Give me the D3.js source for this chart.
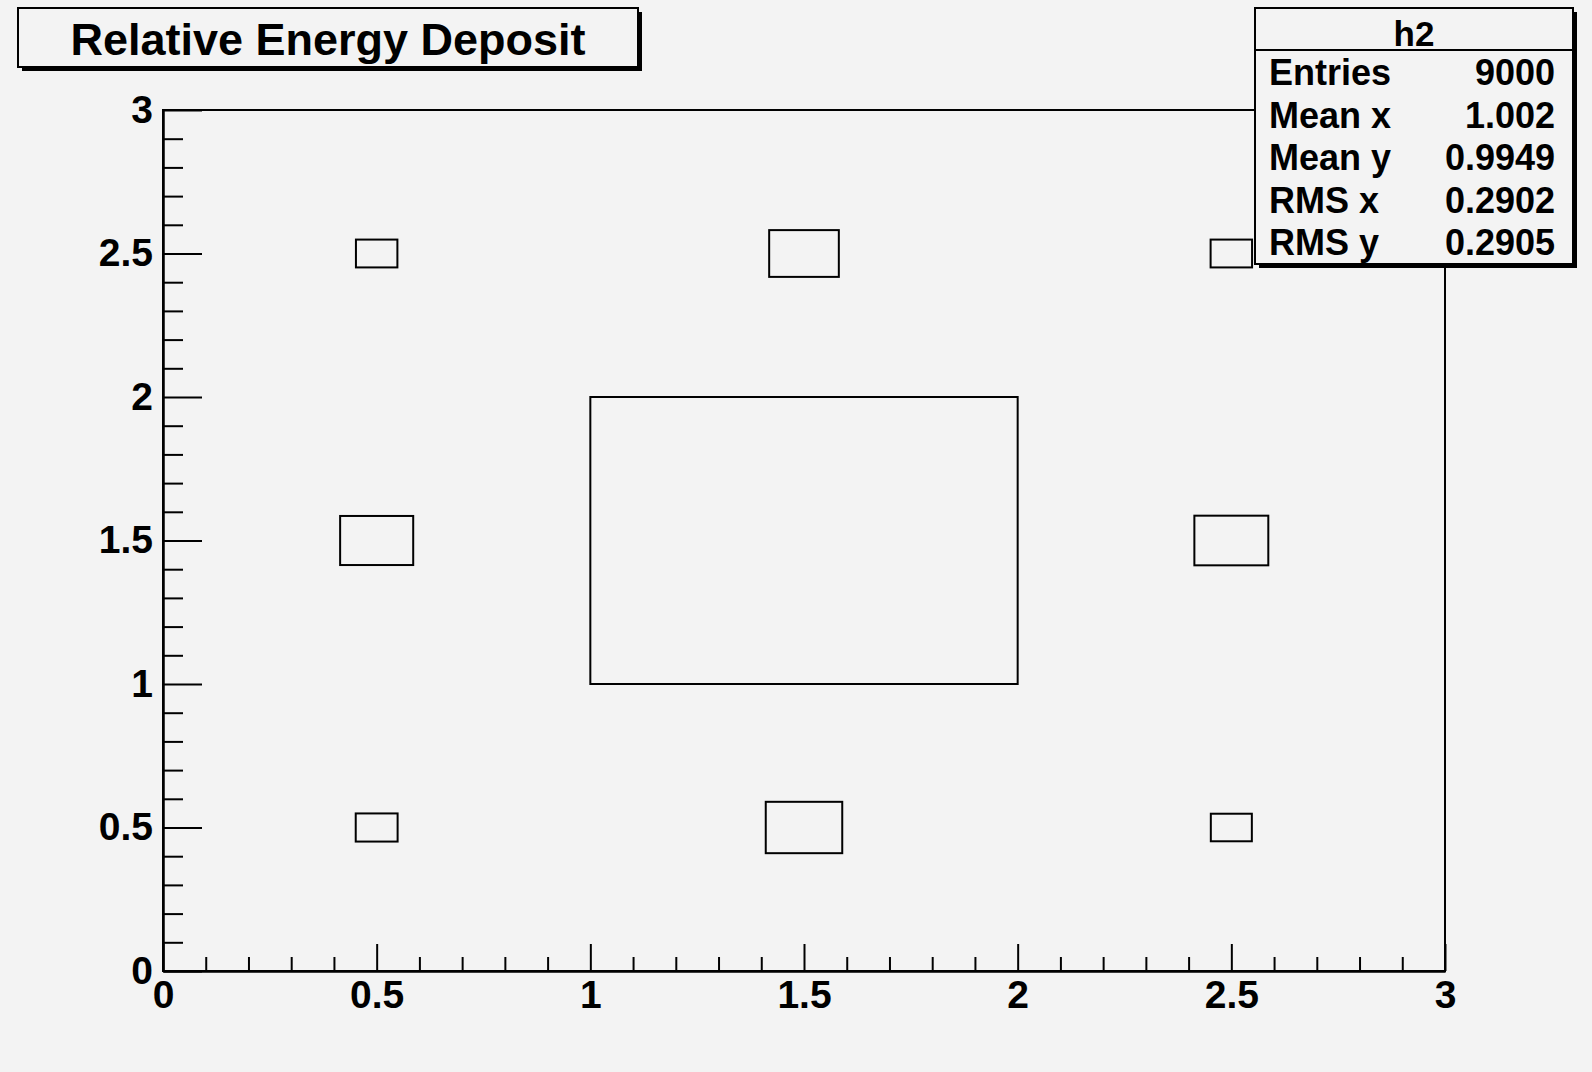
<!DOCTYPE html>
<html>
<head>
<meta charset="utf-8">
<script src="https://cdn.jsdelivr.net/npm/d3@7/dist/d3.min.js"></script>
<style>
body { margin: 0; background: #f3f3f3; }
text { font-family: "Liberation Sans", Arial, sans-serif; font-weight: bold; fill: #000; }
</style>
</head>
<body>
<svg width="1592" height="1072"></svg>
<script>
// 3x3 bins, box side proportional to bin content
var binX = [0.5, 1.5, 2.5, 0.5, 1.5, 2.5, 0.5, 1.5, 2.5],
    binY = [0.5, 0.5, 0.5, 1.5, 1.5, 1.5, 2.5, 2.5, 2.5],
    binContent = [0.098, 0.179, 0.096, 0.171, 1.0, 0.173, 0.097, 0.163, 0.097];

var majorTicks = [0, 0.5, 1, 1.5, 2, 2.5, 3];

var statLabels = ["Entries", "Mean x", "Mean y", "RMS x", "RMS y"],
    statValues = ["9000", "1.002", "0.9949", "0.2902", "0.2905"];

var title = "Relative Energy Deposit",
    histName = "h2";

var svg = d3.select("svg"),
    margin = {top: 110, right: 147, bottom: 101, left: 163},
    width = +svg.attr("width") - margin.left - margin.right,
    height = +svg.attr("height") - margin.top - margin.bottom;

svg.append("rect")
    .attr("width", +svg.attr("width"))
    .attr("height", +svg.attr("height"))
    .style("fill", "#f3f3f3");

var x = d3.scaleLinear().domain([0, 3]).range([0, width]),
    y = d3.scaleLinear().domain([0, 3]).range([height, 0]),
    boxScale = d3.scaleLinear().domain([0, d3.max(binContent)]).range([0, 1]);

var g = svg.append("g")
    .attr("transform", "translate(" + margin.left + "," + margin.top + ")");

var minorTicks = x.ticks(30).filter(function(d) {
    return majorTicks.indexOf(+d.toFixed(2)) < 0;
});

// x axis: ticks point up into the frame
g.append("g")
    .attr("class", "axis axis--x")
    .attr("transform", "translate(0," + height + ")")
    .call(d3.axisBottom(x).tickValues(minorTicks).tickSize(-14).tickSizeOuter(0).tickFormat(""));
g.append("g")
    .attr("class", "axis axis--x")
    .attr("transform", "translate(0," + height + ")")
    .call(d3.axisBottom(x).tickValues(majorTicks).tickSize(-27).tickSizeOuter(0).tickPadding(9)
        .tickFormat(function(d) { return String(d); }));

// y axis: ticks point right into the frame
g.append("g")
    .attr("class", "axis axis--y")
    .call(d3.axisLeft(y).tickValues(minorTicks).tickSize(-20).tickSizeOuter(0).tickFormat(""));
g.append("g")
    .attr("class", "axis axis--y")
    .call(d3.axisLeft(y).tickValues(majorTicks).tickSize(-39).tickSizeOuter(0).tickPadding(10)
        .tickFormat(function(d) { return String(d); }));

g.selectAll(".axis path, .axis line")
    .style("stroke", "#000")
    .style("stroke-width", 2);
g.selectAll(".axis text")
    .style("font-size", "39px")
    .style("font-family", "'Liberation Sans', Arial, sans-serif")
    .style("font-weight", "bold");

g.append("rect")
    .attr("width", width)
    .attr("height", height)
    .style("fill", "none")
    .style("stroke", "#000")
    .style("stroke-width", 2);

// boxes
for (var i = 0; i < binContent.length; i++) {
    var half = 0.5 * boxScale(binContent[i]);
    g.append("rect")
        .attr("x", x(binX[i] - half))
        .attr("y", y(binY[i] + half))
        .attr("width", x(binX[i] + half) - x(binX[i] - half))
        .attr("height", y(binY[i] - half) - y(binY[i] + half))
        .style("fill", "none")
        .style("stroke", "#000")
        .style("stroke-width", 2);
}

// title pave
var tb = {x: 18, y: 8, w: 620, h: 59};
svg.append("rect")
    .attr("x", tb.x + 4).attr("y", tb.y + 4)
    .attr("width", tb.w).attr("height", tb.h)
    .style("fill", "#000");
svg.append("rect")
    .attr("x", tb.x).attr("y", tb.y)
    .attr("width", tb.w).attr("height", tb.h)
    .style("fill", "#f3f3f3")
    .style("stroke", "#000")
    .style("stroke-width", 2);
svg.append("text")
    .attr("x", tb.x + tb.w / 2)
    .attr("y", 55)
    .attr("text-anchor", "middle")
    .style("font-size", "45px")
    .text(title);

// stats pave
var sb = {x: 1255, y: 8, w: 318, h: 256};
svg.append("rect")
    .attr("x", sb.x + 4).attr("y", sb.y + 4)
    .attr("width", sb.w).attr("height", sb.h)
    .style("fill", "#000");
svg.append("rect")
    .attr("x", sb.x).attr("y", sb.y)
    .attr("width", sb.w).attr("height", sb.h)
    .style("fill", "#f3f3f3")
    .style("stroke", "#000")
    .style("stroke-width", 2);
svg.append("line")
    .attr("x1", sb.x).attr("x2", sb.x + sb.w)
    .attr("y1", 50).attr("y2", 50)
    .style("stroke", "#000")
    .style("stroke-width", 2);
svg.append("text")
    .attr("x", sb.x + sb.w / 2)
    .attr("y", 46)
    .attr("text-anchor", "middle")
    .style("font-size", "35px")
    .text(histName);

for (var j = 0; j < statLabels.length; j++) {
    svg.append("text")
        .attr("x", 1269)
        .attr("y", 85 + j * 42.5)
        .style("font-size", "36px")
        .text(statLabels[j]);
    svg.append("text")
        .attr("x", 1555)
        .attr("y", 85 + j * 42.5)
        .attr("text-anchor", "end")
        .style("font-size", "36px")
        .text(statValues[j]);
}
</script>
</body>
</html>
